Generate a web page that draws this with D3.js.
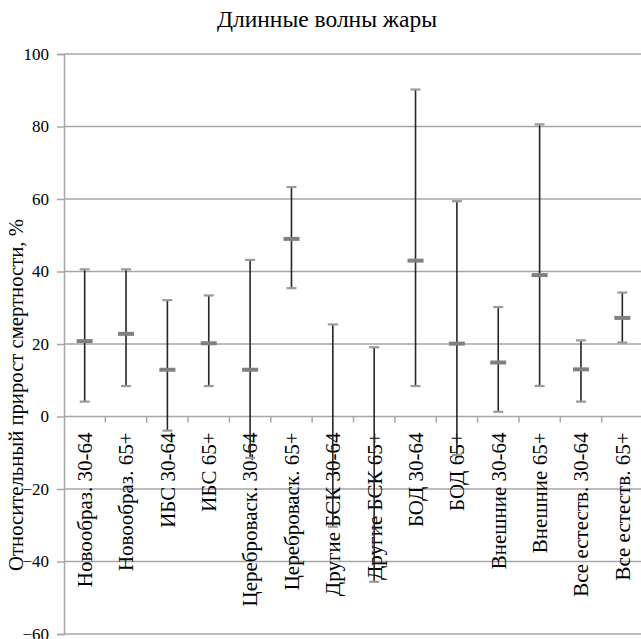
<!DOCTYPE html>
<html>
<head>
<meta charset="utf-8">
<script src="https://cdn.jsdelivr.net/npm/d3@7"></script>
<style>
  html, body { margin: 0; padding: 0; background: #fff; }
  svg { display: block; }
</style>
</head>
<body>
<svg id="chart" width="641" height="639"></svg>
<script>
// Cause-specific mortality increase during long heat waves (relative, %)
const categories = [
  "Новообраз. 30-64", "Новообраз. 65+", "ИБС 30-64", "ИБС 65+",
  "Цереброваск. 30-64", "Цереброваск. 65+", "Другие БСК 30-64", "Другие БСК 65+",
  "БОД 30-64", "БОД 65+", "Внешние 30-64", "Внешние 65+",
  "Все естеств. 30-64", "Все естеств. 65+"
];
const estimates = [20.8, 22.8, 12.9, 20.2, 12.9, 49.0, null, null, 43.0, 20.1, 14.9, 39.0, 13.0, 27.2];
const lowerCI   = [4.1, 8.4, -3.9, 8.4, -11.4, 35.4, -30.4, -45.6, 8.4, -10.6, 1.3, 8.4, 4.1, 20.4];
const upperCI   = [40.6, 40.6, 32.1, 33.4, 43.2, 63.3, 25.4, 19.1, 90.2, 59.4, 30.2, 80.6, 21.0, 34.2];
const yTicks = [-60, -40, -20, 0, 20, 40, 60, 80, 100];

const title = "Длинные волны жары";
const yTitle = "Относительный прирост смертности, %";

const SERIF = '"Liberation Serif"';
const svg = d3.select("#chart");
const plotL = 64, plotR = 643, plotT = 54, plotB = 634;

const x = d3.scaleBand().domain(categories).range([plotL, plotR]).padding(0);
const y = d3.scaleLinear().domain([-60, 100]).range([plotB, plotT]);

const gridColor = "#a6a6a6";

// y axis: line and outward ticks from d3, labels drawn as serif text
const yAxis = d3.axisLeft(y).tickValues(yTicks).tickSize(7).tickFormat("");
const gy = svg.append("g").attr("transform", `translate(${plotL},0)`).call(yAxis);
gy.select(".domain").attr("stroke", gridColor).attr("stroke-width", 1.5);
gy.selectAll(".tick line").attr("stroke", gridColor).attr("stroke-width", 1.5);

svg.append("g").selectAll("text").data(yTicks).join("text")
  .attr("x", plotL - 15).attr("y", d => y(d))
  .attr("dy", "0.35em").attr("text-anchor", "end")
  .style("font-family", SERIF).style("font-size", "17px").attr("fill", "#000")
  .text(d => d3.format("d")(d));

// horizontal gridlines
svg.append("g").selectAll("line").data(yTicks).join("line")
  .attr("x1", plotL).attr("x2", plotR)
  .attr("y1", d => y(d)).attr("y2", d => y(d))
  .attr("stroke", gridColor).attr("stroke-width", 1.5);

// category boundary ticks on the zero line
svg.append("g").selectAll("line").data(categories.slice(1)).join("line")
  .attr("x1", d => x(d)).attr("x2", d => x(d))
  .attr("y1", y(0)).attr("y2", y(0) + 6)
  .attr("stroke", gridColor).attr("stroke-width", 1.5);

// rotated category labels
svg.append("g").selectAll("text").data(categories).join("text")
  .attr("transform", d => `translate(${x(d) + x.bandwidth() / 2},${y(0) + 16}) rotate(-90)`)
  .attr("text-anchor", "end")
  .attr("dy", "0.35em")
  .style("font-family", SERIF).style("font-size", "21px")
  .attr("fill", "#000")
  .text(d => d);

// error bars
const rows = categories.map((c, i) => ({ c, est: estimates[i], lo: lowerCI[i], hi: upperCI[i] }));
const cx = d => x(d.c) + x.bandwidth() / 2;

svg.append("g").selectAll("line").data(rows).join("line")
  .attr("x1", cx).attr("x2", cx)
  .attr("y1", d => y(d.lo)).attr("y2", d => y(d.hi))
  .attr("stroke", "#262626").attr("stroke-width", 1.6);

const capW = 10;
svg.append("g").selectAll("line").data(rows.flatMap(d => [{ d, v: d.hi }, { d, v: d.lo }])).join("line")
  .attr("x1", e => cx(e.d) - capW / 2).attr("x2", e => cx(e.d) + capW / 2)
  .attr("y1", e => y(e.v)).attr("y2", e => y(e.v))
  .attr("stroke", "#9a9a9a").attr("stroke-width", 2.2);

const markW = 16;
svg.append("g").selectAll("line").data(rows.filter(d => d.est !== null)).join("line")
  .attr("x1", d => cx(d) - markW / 2).attr("x2", d => cx(d) + markW / 2)
  .attr("y1", d => y(d.est)).attr("y2", d => y(d.est))
  .attr("stroke", "#808080").attr("stroke-width", 4);

// titles
svg.append("text").attr("x", 327).attr("y", 27).attr("text-anchor", "middle")
  .style("font-family", SERIF).style("font-size", "23.5px").attr("fill", "#000")
  .text(title);

svg.append("text")
  .attr("transform", `translate(16,395) rotate(-90)`)
  .attr("text-anchor", "middle").attr("dy", "0.35em")
  .style("font-family", SERIF).style("font-size", "20.7px").attr("fill", "#000")
  .text(yTitle);
</script>
</body>
</html>
